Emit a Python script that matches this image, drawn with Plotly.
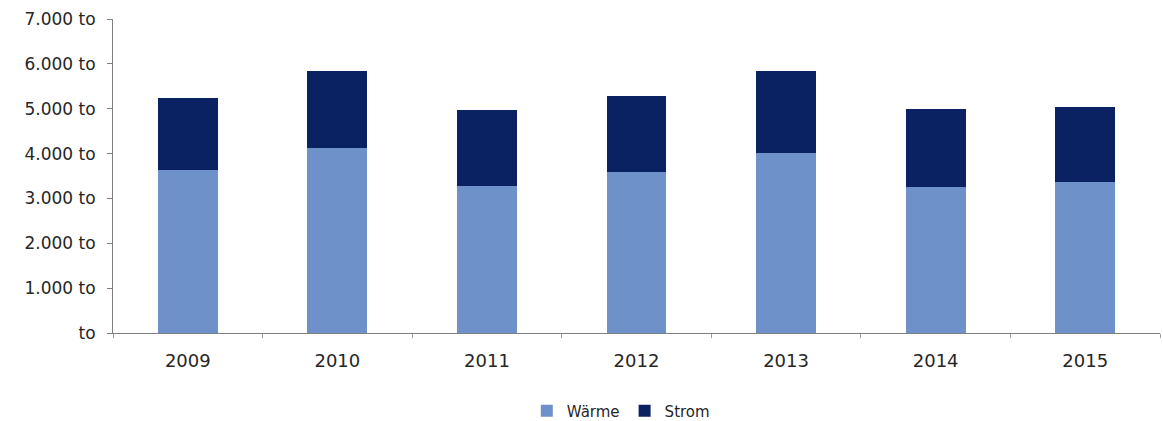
import plotly.graph_objects as go

# Jahreswerte in Tonnen
years = ["2009", "2010", "2011", "2012", "2013", "2014", "2015"]
waerme = [3630, 4130, 3280, 3590, 4010, 3260, 3370]
strom = [1620, 1700, 1690, 1700, 1820, 1730, 1670]

y_ticks = [0, 1000, 2000, 3000, 4000, 5000, 6000, 7000]
y_ticktext = ["to", "1.000 to", "2.000 to", "3.000 to", "4.000 to",
              "5.000 to", "6.000 to", "7.000 to"]

font_family = "'DejaVu Sans', sans-serif"
text_color = "#262626"

fig = go.Figure()
fig.add_trace(go.Bar(x=years, y=waerme, name="Wärme", marker_color="#6E91CA",
                     marker_line_width=0))
fig.add_trace(go.Bar(x=years, y=strom, name="Strom", marker_color="#0B2262",
                     marker_line_width=0))

fig.update_layout(
    width=1163, height=421,
    barmode="stack", bargap=0.6,
    plot_bgcolor="white", paper_bgcolor="white",
    margin=dict(l=113, r=3, t=19, b=88, autoexpand=False),
    font=dict(family=font_family, size=15, color=text_color),
    showlegend=True,
    legend=dict(orientation="h", x=0.485, xanchor="center",
                yref="container", y=0.024, yanchor="middle",
                font=dict(size=15, color=text_color), itemwidth=30,
                traceorder="normal", tracegroupgap=0),
)
fig.update_xaxes(
    showgrid=False, showline=True, linecolor="#7f7f7f", linewidth=1,
    ticks="outside", tickson="boundaries", ticklen=4, tickcolor="#9a9a9a",
    tickfont=dict(size=18, color=text_color), ticklabelstandoff=11,
)
fig.update_yaxes(
    range=[0, 7000], tickvals=y_ticks, ticktext=y_ticktext,
    showgrid=False, showline=True, linecolor="#7f7f7f", linewidth=1,
    ticks="outside", ticklen=5, tickcolor="#7f7f7f", zeroline=False,
    tickfont=dict(size=17, color=text_color), ticklabelstandoff=8,
)

fig.write_html("out.html")
